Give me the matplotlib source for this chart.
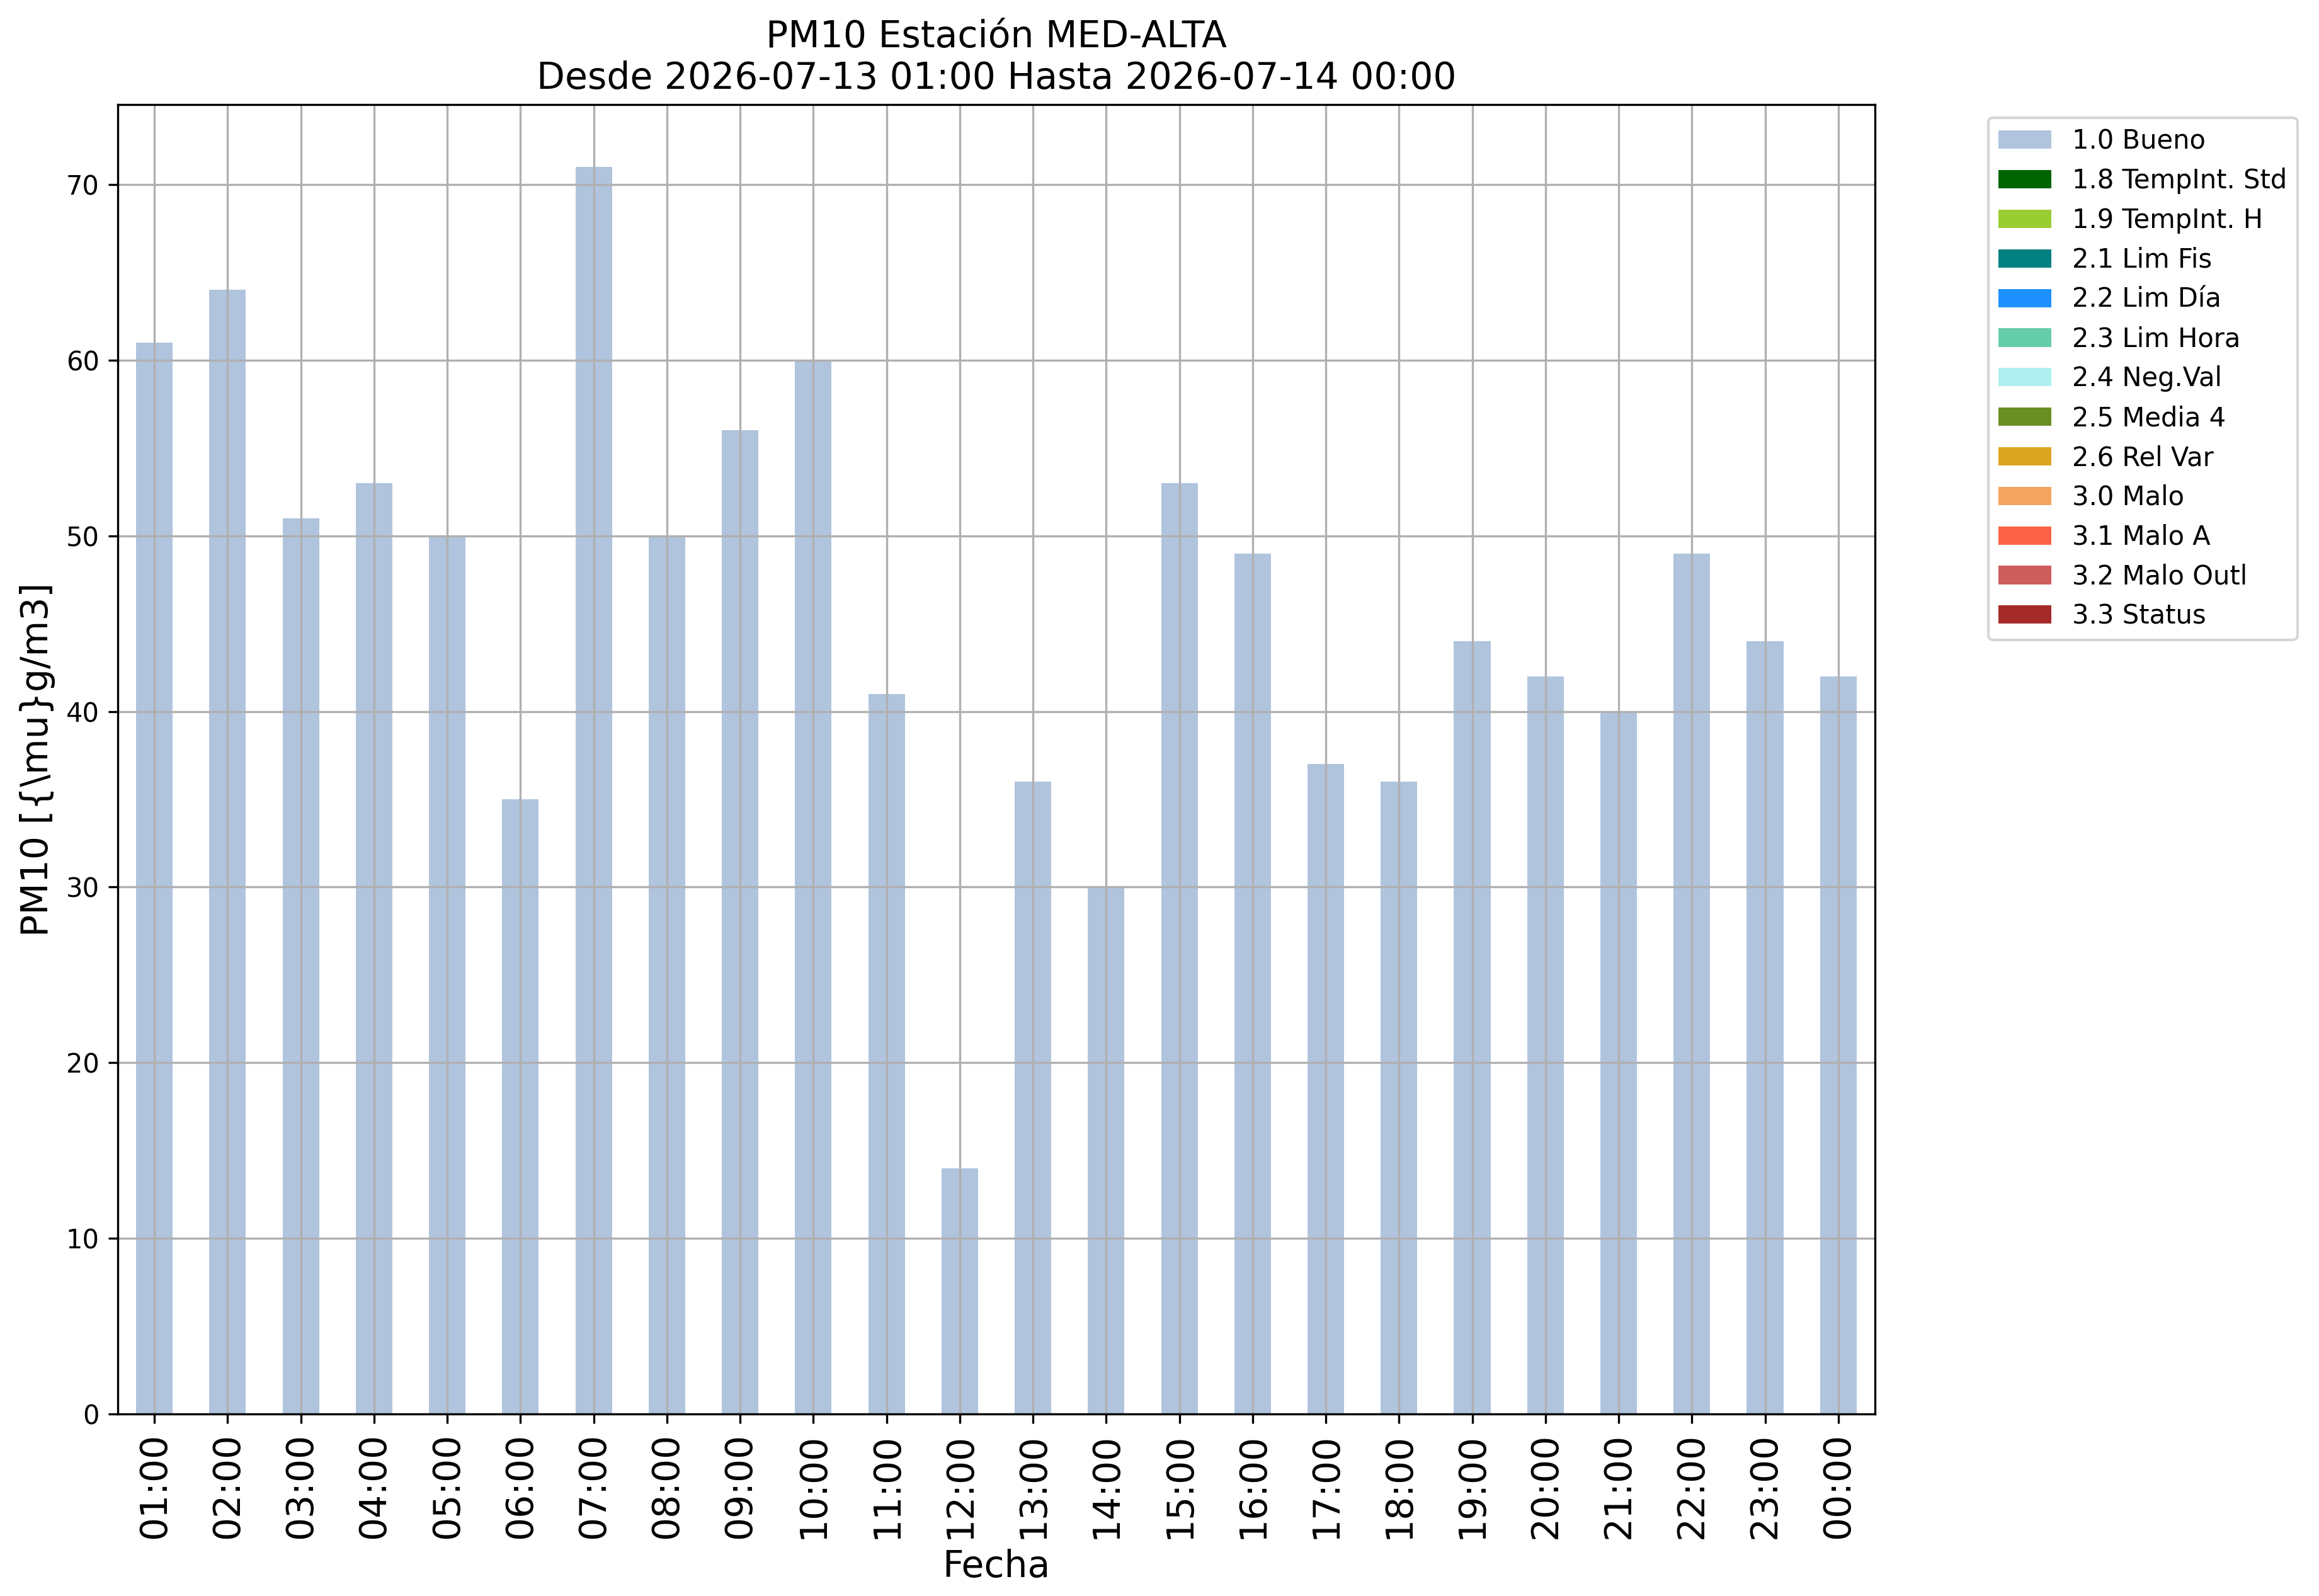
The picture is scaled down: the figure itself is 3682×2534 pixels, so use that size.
import numpy as np
import matplotlib
matplotlib.use('Agg')
from matplotlib import pyplot as plt

horas = ['01:00', '02:00', '03:00', '04:00', '05:00', '06:00', '07:00', '08:00',
         '09:00', '10:00', '11:00', '12:00', '13:00', '14:00', '15:00', '16:00',
         '17:00', '18:00', '19:00', '20:00', '21:00', '22:00', '23:00', '00:00']

bueno = [61, 64, 51, 53, 50, 35, 71, 50, 56, 60, 41, 14,
         36, 30, 53, 49, 37, 36, 44, 42, 40, 49, 44, 42]

etiquetas = ['1.0 Bueno', '1.8 TempInt. Std', '1.9 TempInt. H', '2.1 Lim Fis',
             '2.2 Lim Día', '2.3 Lim Hora', '2.4 Neg.Val', '2.5 Media 4',
             '2.6 Rel Var', '3.0 Malo', '3.1 Malo A', '3.2 Malo Outl', '3.3 Status']
colores = ['lightsteelblue', 'darkgreen', 'yellowgreen', 'teal', 'dodgerblue',
           'mediumaquamarine', 'paleturquoise', 'olivedrab', 'goldenrod',
           'sandybrown', 'tomato', 'indianred', 'brown']

# solo hay datos buenos, el resto de flags vienen vacios
vacio = [0] * len(horas)
series = [bueno] + [vacio] * (len(etiquetas) - 1)

fig = plt.figure(figsize=(3682 / 300, 2534 / 300), dpi=300)
ax = fig.add_axes([0.0508, 0.114, 0.7577, 0.8205])

x = np.arange(len(horas))
base = np.zeros(len(horas))
for vals, lab, col in zip(series, etiquetas, colores):
    ax.bar(x, vals, 0.5, bottom=base, color=col, label=lab)
    base = base + np.array(vals)

ax.set_xlim(-0.5, len(horas) - 0.5)
ax.set_ylim(0, max(bueno) * 1.05)
ax.set_xticks(x)
ax.set_xticklabels(horas, rotation=90, fontsize=14)
ax.tick_params(axis='y', labelsize=10)
ax.grid(True)

ax.set_title('PM10 Estación MED-ALTA\nDesde 2026-07-13 01:00 Hasta 2026-07-14 00:00', fontsize=14)
ax.set_ylabel('PM10 [{\\mu}g/m3]', fontsize=14)
ax.set_xlabel('Fecha', fontsize=14)
ax.legend(bbox_to_anchor=(1.057, 1), loc='upper left', fontsize=10)

fig.savefig('out.png', dpi=300)
